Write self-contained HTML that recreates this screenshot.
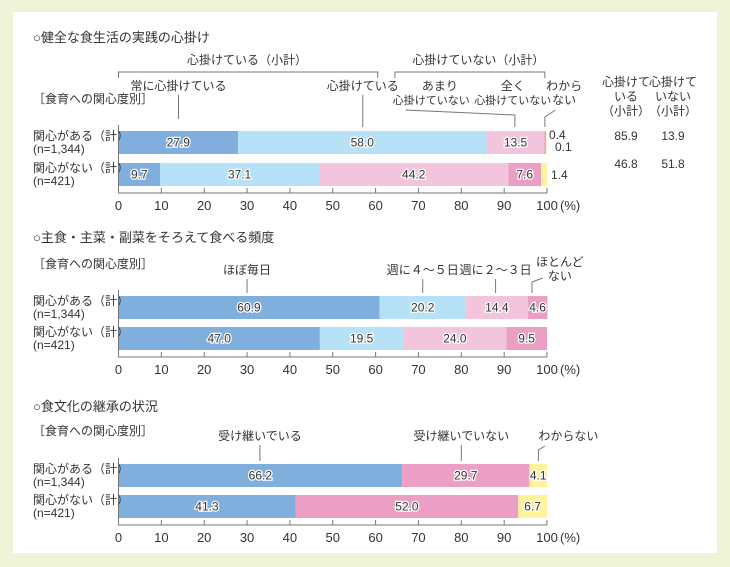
<!DOCTYPE html>
<html><head><meta charset="utf-8">
<style>
body{margin:0;background:#eff3d8;}
svg{display:block;font-family:"Liberation Sans","Noto Sans CJK JP",sans-serif;}
.t{font-size:13px;fill:#333;}
.lab{font-size:12px;fill:#333;}
.sm{font-size:11px;fill:#333;}
.v{font-size:12px;fill:#333;stroke:#fff;stroke-width:2.5px;paint-order:stroke;text-anchor:middle;}
.tick{font-size:13px;fill:#333;text-anchor:middle;}
.unit{font-size:13px;fill:#333;}
.ln{stroke:#777;fill:none;stroke-width:1;}
</style></head><body>
<svg id="c" width="730" height="567">
<rect x="0" y="0" width="730" height="567" fill="#eff3d8"/>
<rect x="13" y="12" width="704" height="541" fill="#fff"/>
<g id="g"></g>
</svg>
<script>
const groups=["関心がある（計）","関心がない（計）"];
const ns=["(n=1,344)","(n=421)"];
const ticks=[0,10,20,30,40,50,60,70,80,90,100];
const c1a=[27.9,58.0,13.5,0.4,0.1];
const c1b=[9.7,37.1,44.2,7.6,1.4];
const c2a=[60.9,20.2,14.4,4.6];
const c2b=[47.0,19.5,24.0,9.5];
const c3a=[66.2,29.7,4.1];
const c3b=[41.3,52.0,6.7];
const sub1=["85.9","46.8"];
const sub2=["13.9","51.8"];
const col1=["#80afde","#b6e1f6","#f3c5dc","#ec9fc5","#fff49c"];
const col2=["#80afde","#b6e1f6","#f3c5dc","#ec9fc5"];
const col3=["#80afde","#ec9fc5","#fff49c"];
const X0=118.5,X1=547;
const sx=v=>X0+(X1-X0)*v/100;
const g=document.getElementById('g');
const NS='http://www.w3.org/2000/svg';
function el(tag,attrs,txt){const e=document.createElementNS(NS,tag);for(const k in attrs)e.setAttribute(k,attrs[k]);if(txt!==undefined)e.textContent=txt;g.appendChild(e);return e;}
function text(x,y,s,cls,anchor){return el('text',{x:x,y:y,class:cls,'text-anchor':anchor||'start'},s);}
function line(pts){return el('polyline',{points:pts.map(p=>p.join(',')).join(' '),class:'ln'});}
function chart(rows,cols,ys,h,axisY,hide){
 rows.forEach((vals,ri)=>{
  let acc=0;
  vals.forEach((v,i)=>{
   const r=el('rect',{x:sx(acc),y:ys[ri],width:sx(acc+v)-sx(acc),height:h,fill:cols[i]});
   
   
   if(!(hide&&hide(ri,i))){
    const t=text((sx(acc)+sx(acc+v))/2,ys[ri]+h/2+4,v.toFixed(1),'v');
    
    
   }
   acc+=v;
  });
  const a=text(33,ys[ri]+9,groups[ri],'lab');
  
  
  const b=text(33,ys[ri]+22,ns[ri],'lab');
  
  
 });
 line([[X0,ys[0]-6],[X0,axisY],[X1,axisY]]);
 ticks.forEach(t=>{
  line([[sx(t),axisY-5],[sx(t),axisY]]);
  const tl=text(sx(t),axisY+17,String(t),'tick');
  
  
 });
 const u=text(sx(100)+13,axisY+17,'(%)','unit','start');
 
 
}
// chart 1
text(33,42,'○健全な食生活の実践の心掛け','t');
text(33,103,'［食育への関心度別］','lab');
chart([c1a,c1b],col1,[131,163],23,193,(r,i)=>(r==0&&i>=3)||(r==1&&i==4));
text(sx(100)+2,139,'0.4','lab');text(sx(100)+8,151,'0.1','lab');
text(sx(100)+4,179,'1.4','lab');
text(sx(30),64,'心掛けている（小計）','lab','middle');
line([[sx(0),78],[sx(0),72],[sx(60.5),72],[sx(60.5),78]]);
text(sx(84),64,'心掛けていない（小計）','lab','middle');
line([[sx(64.5),78],[sx(64.5),72],[sx(99.5),72],[sx(99.5),78]]);
text(sx(14),90,'常に心掛けている','lab','middle');line([[sx(14),95],[sx(14),119]]);
text(sx(57),90,'心掛けている','lab','middle');line([[sx(57),95],[sx(57),127]]);
text(sx(75),90,'あまり','lab','middle');text(sx(73),104,'心掛けていない','sm','middle');
line([[sx(67),110],[sx(92.5),115],[sx(92.5),127]]);
text(sx(92),90,'全く','lab','middle');text(sx(92),104,'心掛けていない','sm','middle');
text(sx(104),90,'わから','lab','middle');text(sx(104),104,'ない','lab','middle');
line([[sx(102),110],[sx(99.5),117],[sx(99.5),127]]);
[['心掛けて','いる','（小計）'],['心掛けて','いない','（小計）']].forEach((a,i)=>{a.forEach((s,j)=>text(626+47*i,86+j*14.5,s,'lab','middle'));});
sub1.forEach((s,i)=>text(626,140+i*28,s,'lab','middle'));
sub2.forEach((s,i)=>text(673,140+i*28,s,'lab','middle'));
// chart 2
text(33,242,'○主食・主菜・副菜をそろえて食べる頻度','t');
text(33,268,'［食育への関心度別］','lab');
chart([c2a,c2b],col2,[296,327],23,357);
text(sx(30),274,'ほぼ毎日','lab','middle');line([[sx(30),279],[sx(30),293]]);
text(sx(71),274,'週に４～５日','lab','middle');line([[sx(71),279],[sx(71),293]]);
text(sx(88),274,'週に２～３日','lab','middle');line([[sx(88),279],[sx(88),293]]);
text(sx(103),266,'ほとんど','lab','middle');text(sx(103),280,'ない','lab','middle');
line([[sx(99),278],[sx(96.5),282],[sx(96.5),293]]);
// chart 3
text(33,411,'○食文化の継承の状況','t');
text(33,435,'［食育への関心度別］','lab');
chart([c3a,c3b],col3,[464,495],23,525);
text(sx(33),440,'受け継いでいる','lab','middle');line([[sx(33),445],[sx(33),461]]);
text(sx(80),440,'受け継いでいない','lab','middle');line([[sx(80),445],[sx(80),461]]);
text(sx(105),440,'わからない','lab','middle');line([[sx(99.5),446],[sx(98),450],[sx(98),461]]);
</script>
</body></html>
